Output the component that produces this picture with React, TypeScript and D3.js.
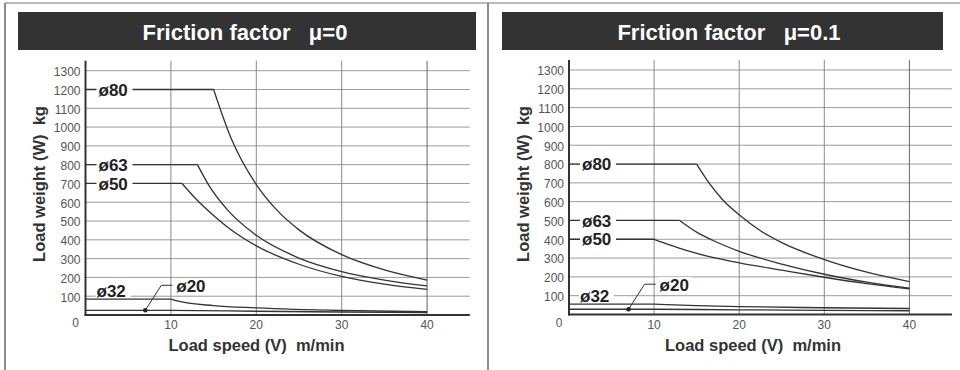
import React from "react";
import * as d3 from "d3";

type Pt = [number, number];

const xTicks = [10, 20, 30, 40];
const yTicks = [100, 200, 300, 400, 500, 600, 700, 800, 900, 1000, 1100, 1200, 1300];

const leftTitle = "Friction factor   μ=0";
const rightTitle = "Friction factor   μ=0.1";
const xTitle = "Load speed (V)  m/min";
const yTitle = "Load weight (W)  kg";

// Left chart (μ=0): flat levels up to knee, then decaying curves
const leftNames = ["ø80", "ø63", "ø50", "ø32", "ø20"];
const leftLevels = [1200, 800, 700, 85, 25];
const leftPhi80: Pt[] = [[15, 1200], [17, 946], [20, 694], [22.5, 554], [25, 453], [30, 321], [35, 240], [40, 186]];
const leftPhi63: Pt[] = [[13.1, 800], [14.5, 686], [16.6, 561], [20, 424], [25, 303], [30, 231], [35, 186], [40, 155]];
const leftPhi50: Pt[] = [[11.3, 700], [13, 615], [15, 530], [17, 455], [20, 368], [25, 270], [30, 205], [35, 164], [40, 136]];
const leftPhi32: Pt[] = [[10, 85], [11, 72], [15, 50], [20, 38], [30, 24], [40, 18]];
const leftPhi20: Pt[] = [[10, 25], [20, 20], [30, 16], [40, 13]];

// Right chart (μ=0.1)
const rightNames = ["ø80", "ø63", "ø50", "ø32", "ø20"];
const rightLevels = [800, 500, 400, 55, 28];
const rightPhi80: Pt[] = [[15, 800], [16.5, 697], [18, 613], [20, 530], [22.5, 445], [25, 382], [30, 292], [35, 225], [40, 175]];
const rightPhi63: Pt[] = [[13, 500], [15, 438], [17, 392], [20, 336], [25, 268], [30, 214], [35, 172], [40, 140]];
const rightPhi50: Pt[] = [[10, 400], [12, 368], [14, 338], [17, 302], [20, 275], [25, 236], [30, 198], [35, 164], [40, 136]];
const rightPhi32: Pt[] = [[10, 55], [15, 47], [20, 42], [30, 36], [40, 32]];
const rightPhi20: Pt[] = [[10, 28], [20, 25], [30, 22], [40, 20]];

const dotX = 7; // ø20 marker speed

const FONT = "'Liberation Sans', Arial, Helvetica, sans-serif";

type PanelProps = {
  title: string;
  barX0: number;
  barX1: number;
  axisX: number;
  pxPer10: number;
  y0: number;
  y1300: number;
  names: string[];
  levels: number[];
  curves: Pt[][];
  titleX: number;
  xTitleX: number;
  yTitleX: number;
};

function Panel(p: PanelProps) {
  const x = d3.scaleLinear().domain([0, 45]).range([p.axisX, p.axisX + 4.5 * p.pxPer10]);
  const y = d3.scaleLinear().domain([0, 1300]).range([p.y0, p.y1300]);
  const line = d3
    .line<Pt>()
    .x((d) => x(d[0]))
    .y((d) => y(d[1]))
    .curve(d3.curveMonotoneX);
  const top = p.y1300 - 10;
  const gridColor = "#9a9a9a";
  const curveColor = "#333";

  const big = [0, 1, 2];
  const small32 = 3;
  const small20 = 4;
  const lblFont = 17;

  const y20 = y(p.levels[small20]);
  const dx = x(dotX);

  return (
    <g>
      {/* title bar */}
      <rect x={p.barX0} y={12} width={p.barX1 - p.barX0} height={38} fill="#333" />
      <text
        x={p.titleX}
        y={40}
        textAnchor="middle"
        fill="#fff"
        fontFamily={FONT}
        fontWeight="bold"
        fontSize={22}
        style={{ whiteSpace: "pre" }}
      >
        {p.title}
      </text>

      {/* horizontal grid */}
      {yTicks.map((t) => (
        <line key={"h" + t} x1={x(0)} x2={x(45)} y1={y(t)} y2={y(t)} stroke={gridColor} strokeWidth={1} />
      ))}
      {/* vertical grid */}
      {xTicks.map((t) => (
        <line
          key={"v" + t}
          x1={x(t)}
          x2={x(t)}
          y1={top}
          y2={p.y0}
          stroke={t === 40 ? "#666" : "#8a8a8a"}
          strokeWidth={1}
        />
      ))}

      {/* curves */}
      {p.curves.map((c, i) => (
        <g key={"c" + i}>
          <line
            x1={x(0)}
            x2={x(c[0][0])}
            y1={y(p.levels[i])}
            y2={y(p.levels[i])}
            stroke={curveColor}
            strokeWidth={1.3}
          />
          <path d={line(c) || ""} fill="none" stroke={curveColor} strokeWidth={1.3} />
        </g>
      ))}

      {/* big labels on lines */}
      {big.map((i) => {
        const ly = y(p.levels[i]);
        const lx = p.axisX + 13;
        return (
          <g key={"l" + i}>
            <rect x={lx - 2} y={ly - 8} width={36} height={16} fill="#fff" />
            <text
              x={lx}
              y={ly}
              dy="0.36em"
              fill="#222"
              fontFamily={FONT}
              fontWeight="bold"
              fontSize={lblFont}
            >
              {p.names[i]}
            </text>
          </g>
        );
      })}

      {/* ø32 label above its line */}
      {(() => {
        const ly = y(p.levels[small32]) - 8;
        const lx = p.axisX + 11;
        return (
          <g>
            <rect x={lx - 1} y={ly - 7} width={35} height={13} fill="#fff" />
            <text x={lx} y={ly} dy="0.36em" fill="#222" fontFamily={FONT} fontWeight="bold" fontSize={lblFont}>
              {p.names[small32]}
            </text>
          </g>
        );
      })()}

      {/* ø20 leader */}
      <path
        d={`M${dx},${y20} L${dx + 16},${y20 - 25} L${dx + 27},${y20 - 25}`}
        fill="none"
        stroke="#333"
        strokeWidth={1}
      />
      <circle cx={dx} cy={y20} r={2.3} fill="#222" />
      <rect x={dx + 29} y={y20 - 32} width={34} height={14} fill="#fff" />
      <text
        x={dx + 31}
        y={y20 - 24}
        dy="0.36em"
        fill="#222"
        fontFamily={FONT}
        fontWeight="bold"
        fontSize={lblFont}
      >
        {p.names[small20]}
      </text>

      {/* axes */}
      <line x1={x(0)} x2={x(0)} y1={top} y2={p.y0 + 1} stroke="#333" strokeWidth={2} />
      <line x1={x(0) - 1} x2={x(45)} y1={p.y0} y2={p.y0} stroke="#333" strokeWidth={2} />

      {/* y tick labels */}
      {yTicks.map((t) => (
        <text
          key={"yl" + t}
          x={p.axisX - 5}
          y={y(t) + 1}
          dy="0.36em"
          textAnchor="end"
          fill="#555"
          fontFamily={FONT}
          fontSize={12}
        >
          {t}
        </text>
      ))}
      <text x={p.axisX - 10} y={p.y0 + 8} dy="0.36em" textAnchor="middle" fill="#555" fontFamily={FONT} fontSize={12}>
        0
      </text>
      {/* x tick labels */}
      {xTicks.map((t) => (
        <text
          key={"xl" + t}
          x={x(t)}
          y={p.y0 + 10}
          dy="0.36em"
          textAnchor="middle"
          fill="#555"
          fontFamily={FONT}
          fontSize={12}
        >
          {t}
        </text>
      ))}

      {/* axis titles */}
      <text
        x={p.xTitleX}
        y={351}
        textAnchor="middle"
        fill="#333"
        fontFamily={FONT}
        fontWeight="bold"
        fontSize={16.5}
        style={{ whiteSpace: "pre" }}
      >
        {xTitle}
      </text>
      <text
        transform={`translate(${p.yTitleX},${184}) rotate(-90)`}
        textAnchor="middle"
        fill="#333"
        fontFamily={FONT}
        fontWeight="bold"
        fontSize={16.5}
        style={{ whiteSpace: "pre" }}
      >
        {yTitle}
      </text>
    </g>
  );
}

export default function App() {
  return (
    <svg
      width={960}
      height={370}
      style={{ position: "absolute", left: 0, top: 0, background: "#fff" }}
    >
      <rect x={0} y={0} width={960} height={370} fill="#fff" />
      {/* frame */}
      <line x1={5} x2={960} y1={3} y2={3} stroke="#777" strokeWidth={1.2} />
      <line x1={5} x2={5} y1={3} y2={370} stroke="#666" strokeWidth={1.5} />
      <line x1={488} x2={488} y1={3} y2={370} stroke="#666" strokeWidth={1.5} />

      <Panel
        title={leftTitle}
        barX0={18}
        barX1={476}
        axisX={85.5}
        pxPer10={85.4}
        y0={315}
        y1300={70.7}
        names={leftNames}
        levels={leftLevels}
        curves={[leftPhi80, leftPhi63, leftPhi50, leftPhi32, leftPhi20]}
        titleX={245}
        xTitleX={256.5}
        yTitleX={45}
      />
      <Panel
        title={rightTitle}
        barX0={502}
        barX1={943}
        axisX={569}
        pxPer10={85.1}
        y0={314.5}
        y1300={70}
        names={rightNames}
        levels={rightLevels}
        curves={[rightPhi80, rightPhi63, rightPhi50, rightPhi32, rightPhi20]}
        titleX={729}
        xTitleX={753}
        yTitleX={529}
      />
    </svg>
  );
}
